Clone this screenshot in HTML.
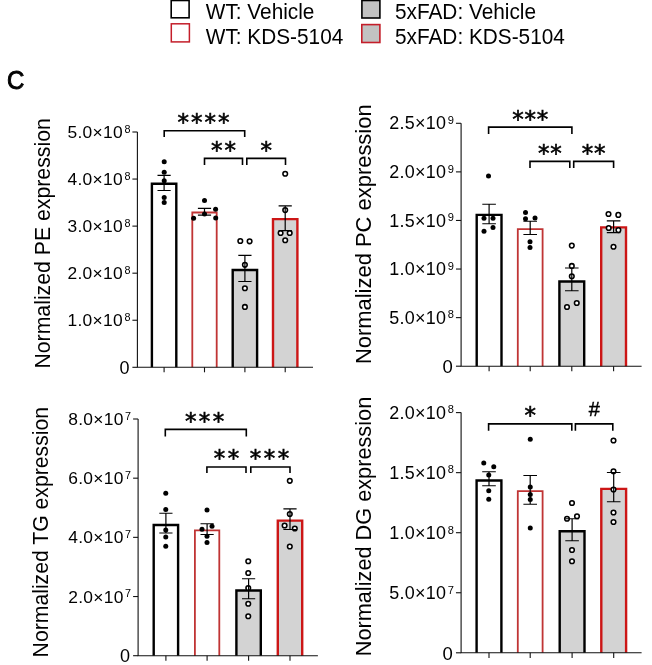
<!DOCTYPE html>
<html><head><meta charset="utf-8"><title>Lipid expression</title>
<style>
html,body{margin:0;padding:0;background:#fff;}
body{width:652px;height:665px;overflow:hidden;}
svg{display:block;filter:blur(0.4px);}
text{font-family:'Liberation Sans', Arial, Helvetica, sans-serif;fill:#000;}
text.ast{font-family:'DejaVu Sans', sans-serif;}
</style></head>
<body>
<svg width="652" height="665" viewBox="0 0 652 665">
<rect x="171.2" y="0.5" width="17.9" height="17.3" fill="#fff" stroke="#000" stroke-width="1.6"/>
<rect x="171.3" y="23.8" width="18.1" height="18.1" fill="#fff" stroke="#c41e2a" stroke-width="1.5"/>
<rect x="361.9" y="0.5" width="18.0" height="17.5" fill="#c2c2c2" stroke="#000" stroke-width="1.6"/>
<rect x="361.8" y="24.6" width="18.1" height="17.9" fill="#c2c2c2" stroke="#c41e2a" stroke-width="1.6"/>
<text transform="translate(205.8 18.9) scale(1 1.06)" font-size="20.8">WT: Vehicle</text>
<text transform="translate(205.8 43.8) scale(1 1.06)" font-size="20.8">WT: KDS-5104</text>
<text transform="translate(395.0 18.9) scale(1 1.06)" font-size="20.8">5xFAD: Vehicle</text>
<text transform="translate(395.0 43.8) scale(1 1.06)" font-size="20.8">5xFAD: KDS-5104</text>
<text transform="translate(7.0 88.5) scale(1 1.07)" font-size="24" stroke="#000" stroke-width="0.9">C</text>
<rect x="151.9" y="183.8" width="24.4" height="183.5" fill="#fff"/>
<path d="M151.9 367.3V183.8H176.3V367.3" fill="none" stroke="#000" stroke-width="2.4"/>
<rect x="192.3" y="212.5" width="24.4" height="154.8" fill="#fff"/>
<path d="M192.3 367.3V212.5H216.7V367.3" fill="none" stroke="#c03434" stroke-width="1.8"/>
<rect x="232.7" y="270" width="24.4" height="97.3" fill="#d3d3d3"/>
<path d="M232.7 367.3V270H257.1V367.3" fill="none" stroke="#000" stroke-width="2.4"/>
<rect x="273" y="219.1" width="24.4" height="148.2" fill="#d3d3d3"/>
<path d="M273 367.3V219.1H297.4V367.3" fill="none" stroke="#cc1616" stroke-width="2.4"/>
<path d="M137.4 132V367.3H313" fill="none" stroke="#111" stroke-width="1.1"/>
<path d="M132.4 367.3H137.4" stroke="#111" stroke-width="1.1"/>
<text x="129.4" y="373.8" font-size="18" text-anchor="end">0</text>
<path d="M132.4 320.24H137.4" stroke="#111" stroke-width="1.1"/>
<text x="130.4" y="321.04" font-size="10.8" text-anchor="end">8</text>
<text x="123" y="326.24" font-size="17.4" text-anchor="end" letter-spacing="0.3">1.0×10</text>
<path d="M132.4 273.18H137.4" stroke="#111" stroke-width="1.1"/>
<text x="130.4" y="273.98" font-size="10.8" text-anchor="end">8</text>
<text x="123" y="279.18" font-size="17.4" text-anchor="end" letter-spacing="0.3">2.0×10</text>
<path d="M132.4 226.12H137.4" stroke="#111" stroke-width="1.1"/>
<text x="130.4" y="226.92" font-size="10.8" text-anchor="end">8</text>
<text x="123" y="232.12" font-size="17.4" text-anchor="end" letter-spacing="0.3">3.0×10</text>
<path d="M132.4 179.06H137.4" stroke="#111" stroke-width="1.1"/>
<text x="130.4" y="179.86" font-size="10.8" text-anchor="end">8</text>
<text x="123" y="185.06" font-size="17.4" text-anchor="end" letter-spacing="0.3">4.0×10</text>
<path d="M132.4 132H137.4" stroke="#111" stroke-width="1.1"/>
<text x="130.4" y="132.8" font-size="10.8" text-anchor="end">8</text>
<text x="123" y="138" font-size="17.4" text-anchor="end" letter-spacing="0.3">5.0×10</text>
<path d="M164.1 367.3V372.3" stroke="#111" stroke-width="1.1"/>
<path d="M204.5 367.3V372.3" stroke="#111" stroke-width="1.1"/>
<path d="M244.9 367.3V372.3" stroke="#111" stroke-width="1.1"/>
<path d="M285.2 367.3V372.3" stroke="#111" stroke-width="1.1"/>
<circle cx="164.2" cy="161.8" r="2.5" fill="#000"/>
<circle cx="164.2" cy="172.3" r="2.5" fill="#000"/>
<circle cx="164.2" cy="180.8" r="2.5" fill="#000"/>
<circle cx="164.2" cy="197.5" r="2.5" fill="#000"/>
<circle cx="164.2" cy="202.5" r="2.5" fill="#000"/>
<circle cx="204.5" cy="200.4" r="2.5" fill="#000"/>
<circle cx="215.6" cy="209.3" r="2.5" fill="#000"/>
<circle cx="204.5" cy="213.9" r="2.5" fill="#000"/>
<circle cx="193.6" cy="218.3" r="2.5" fill="#000"/>
<circle cx="215.7" cy="217.9" r="2.5" fill="#000"/>
<circle cx="240.3" cy="241" r="2.3" fill="#fff" stroke="#000" stroke-width="1.55"/>
<circle cx="249.6" cy="241.3" r="2.3" fill="#fff" stroke="#000" stroke-width="1.55"/>
<circle cx="244.9" cy="264.8" r="2.3" fill="#fff" stroke="#000" stroke-width="1.55"/>
<circle cx="244.9" cy="288.2" r="2.3" fill="#fff" stroke="#000" stroke-width="1.55"/>
<circle cx="244.9" cy="306.9" r="2.3" fill="#fff" stroke="#000" stroke-width="1.55"/>
<circle cx="285.2" cy="173.7" r="2.3" fill="#fff" stroke="#000" stroke-width="1.55"/>
<circle cx="285.2" cy="210.1" r="2.3" fill="#fff" stroke="#000" stroke-width="1.55"/>
<circle cx="280.6" cy="233" r="2.3" fill="#fff" stroke="#000" stroke-width="1.55"/>
<circle cx="289.7" cy="233" r="2.3" fill="#fff" stroke="#000" stroke-width="1.55"/>
<circle cx="285.2" cy="240.2" r="2.3" fill="#fff" stroke="#000" stroke-width="1.55"/>
<path d="M164.1 175.3V190.5M157.5 175.3H170.7M157.5 190.5H170.7" fill="none" stroke="#000" stroke-width="1.2"/>
<path d="M204.5 208.4V215.2M197.9 208.4H211.1M197.9 215.2H211.1" fill="none" stroke="#000" stroke-width="1.2"/>
<path d="M244.9 255.3V281.5M238.3 255.3H251.5M238.3 281.5H251.5" fill="none" stroke="#000" stroke-width="1.2"/>
<path d="M285.2 205.9V230.6M278.6 205.9H291.8M278.6 230.6H291.8" fill="none" stroke="#000" stroke-width="1.2"/>
<path d="M164.2 137V130.7H244.7V137" fill="none" stroke="#000" stroke-width="1.6"/>
<text x="204.55" y="130.1" class="ast" font-size="23" stroke="#000" stroke-width="0.6" text-anchor="middle" letter-spacing="2.0">****</text>
<path d="M204.5 165V158.4H242.5V165" fill="none" stroke="#000" stroke-width="1.6"/>
<text x="224.5" y="157.8" class="ast" font-size="23" stroke="#000" stroke-width="0.6" text-anchor="middle" letter-spacing="2.0">**</text>
<path d="M246.8 165V158.4H285.5V165" fill="none" stroke="#000" stroke-width="1.6"/>
<text x="267.15" y="157.8" class="ast" font-size="23" stroke="#000" stroke-width="0.6" text-anchor="middle" letter-spacing="2.0">*</text>
<text transform="translate(49.6 368.6) rotate(-90)" font-size="21.26">Normalized PE expression</text>
<rect x="476.7" y="214.9" width="24.8" height="151.3" fill="#fff"/>
<path d="M476.7 366.2V214.9H501.5V366.2" fill="none" stroke="#000" stroke-width="2.4"/>
<rect x="517.8" y="229.2" width="24.8" height="137" fill="#fff"/>
<path d="M517.8 366.2V229.2H542.6V366.2" fill="none" stroke="#c03434" stroke-width="1.8"/>
<rect x="559.4" y="281.5" width="24.8" height="84.7" fill="#d3d3d3"/>
<path d="M559.4 366.2V281.5H584.2V366.2" fill="none" stroke="#000" stroke-width="2.4"/>
<rect x="601.2" y="227.4" width="24.8" height="138.8" fill="#d3d3d3"/>
<path d="M601.2 366.2V227.4H626V366.2" fill="none" stroke="#cc1616" stroke-width="2.4"/>
<path d="M461.1 123.3V366.2H641.6" fill="none" stroke="#111" stroke-width="1.1"/>
<path d="M455.95 366.2H461.1" stroke="#111" stroke-width="1.1"/>
<text x="452.86" y="372.89" font-size="18.54" text-anchor="end">0</text>
<path d="M455.95 317.62H461.1" stroke="#111" stroke-width="1.1"/>
<text x="453.89" y="318.42" font-size="11.12" text-anchor="end">8</text>
<text x="446.27" y="323.8" font-size="17.92" text-anchor="end" letter-spacing="0.31">5.0×10</text>
<path d="M455.95 269.04H461.1" stroke="#111" stroke-width="1.1"/>
<text x="453.89" y="269.84" font-size="11.12" text-anchor="end">9</text>
<text x="446.27" y="275.22" font-size="17.92" text-anchor="end" letter-spacing="0.31">1.0×10</text>
<path d="M455.95 220.46H461.1" stroke="#111" stroke-width="1.1"/>
<text x="453.89" y="221.26" font-size="11.12" text-anchor="end">9</text>
<text x="446.27" y="226.64" font-size="17.92" text-anchor="end" letter-spacing="0.31">1.5×10</text>
<path d="M455.95 171.88H461.1" stroke="#111" stroke-width="1.1"/>
<text x="453.89" y="172.68" font-size="11.12" text-anchor="end">9</text>
<text x="446.27" y="178.06" font-size="17.92" text-anchor="end" letter-spacing="0.31">2.0×10</text>
<path d="M455.95 123.3H461.1" stroke="#111" stroke-width="1.1"/>
<text x="453.89" y="124.1" font-size="11.12" text-anchor="end">9</text>
<text x="446.27" y="129.48" font-size="17.92" text-anchor="end" letter-spacing="0.31">2.5×10</text>
<path d="M489.1 366.2V371.35" stroke="#111" stroke-width="1.1"/>
<path d="M530.2 366.2V371.35" stroke="#111" stroke-width="1.1"/>
<path d="M571.8 366.2V371.35" stroke="#111" stroke-width="1.1"/>
<path d="M613.6 366.2V371.35" stroke="#111" stroke-width="1.1"/>
<circle cx="488.5" cy="176" r="2.5" fill="#000"/>
<circle cx="484" cy="218.25" r="2.5" fill="#000"/>
<circle cx="493" cy="218.25" r="2.5" fill="#000"/>
<circle cx="484" cy="231.25" r="2.5" fill="#000"/>
<circle cx="493" cy="227.5" r="2.5" fill="#000"/>
<circle cx="525.5" cy="212.5" r="2.5" fill="#000"/>
<circle cx="525.5" cy="218.75" r="2.5" fill="#000"/>
<circle cx="535" cy="218" r="2.5" fill="#000"/>
<circle cx="530" cy="241.75" r="2.5" fill="#000"/>
<circle cx="530" cy="247.5" r="2.5" fill="#000"/>
<circle cx="571.8" cy="245.6" r="2.3" fill="#fff" stroke="#000" stroke-width="1.55"/>
<circle cx="571.8" cy="265.9" r="2.3" fill="#fff" stroke="#000" stroke-width="1.55"/>
<circle cx="571.8" cy="276.2" r="2.3" fill="#fff" stroke="#000" stroke-width="1.55"/>
<circle cx="567" cy="307" r="2.3" fill="#fff" stroke="#000" stroke-width="1.55"/>
<circle cx="576.75" cy="303" r="2.3" fill="#fff" stroke="#000" stroke-width="1.55"/>
<circle cx="608.5" cy="214" r="2.3" fill="#fff" stroke="#000" stroke-width="1.55"/>
<circle cx="618.3" cy="214.9" r="2.3" fill="#fff" stroke="#000" stroke-width="1.55"/>
<circle cx="608.7" cy="228" r="2.3" fill="#fff" stroke="#000" stroke-width="1.55"/>
<circle cx="618.4" cy="230.1" r="2.3" fill="#fff" stroke="#000" stroke-width="1.55"/>
<circle cx="613.5" cy="246.7" r="2.3" fill="#fff" stroke="#000" stroke-width="1.55"/>
<path d="M489.1 204.25V223.75M482.3 204.25H495.9M482.3 223.75H495.9" fill="none" stroke="#000" stroke-width="1.2"/>
<path d="M530.2 221.25V234.5M523.4 221.25H537M523.4 234.5H537" fill="none" stroke="#000" stroke-width="1.2"/>
<path d="M571.8 268V290.75M565 268H578.6M565 290.75H578.6" fill="none" stroke="#000" stroke-width="1.2"/>
<path d="M613.6 220.8V232.6M606.8 220.8H620.4M606.8 232.6H620.4" fill="none" stroke="#000" stroke-width="1.2"/>
<path d="M488.6 133.9V127.1H571.9V133.9" fill="none" stroke="#000" stroke-width="1.6"/>
<text x="530.65" y="127.1" class="ast" font-size="23" stroke="#000" stroke-width="0.6" text-anchor="middle" letter-spacing="0.8">***</text>
<path d="M530 168V161.4H569.8V168" fill="none" stroke="#000" stroke-width="1.6"/>
<text x="550.3" y="161.4" class="ast" font-size="23" stroke="#000" stroke-width="0.6" text-anchor="middle" letter-spacing="0.8">**</text>
<path d="M573.7 168V161.4H613.6V168" fill="none" stroke="#000" stroke-width="1.6"/>
<text x="594.05" y="161.4" class="ast" font-size="23" stroke="#000" stroke-width="0.6" text-anchor="middle" letter-spacing="0.8">**</text>
<text transform="translate(371.1 364.1) rotate(-90)" font-size="21.94">Normalized PC expression</text>
<rect x="153.7" y="524.95" width="24.4" height="130.75" fill="#fff"/>
<path d="M153.7 655.7V524.95H178.1V655.7" fill="none" stroke="#000" stroke-width="2.4"/>
<rect x="194.9" y="530.45" width="24.4" height="125.25" fill="#fff"/>
<path d="M194.9 655.7V530.45H219.3V655.7" fill="none" stroke="#c03434" stroke-width="1.8"/>
<rect x="236.4" y="590.45" width="24.4" height="65.25" fill="#d3d3d3"/>
<path d="M236.4 655.7V590.45H260.8V655.7" fill="none" stroke="#000" stroke-width="2.4"/>
<rect x="277.8" y="520.6" width="24.4" height="135.1" fill="#d3d3d3"/>
<path d="M277.8 655.7V520.6H302.2V655.7" fill="none" stroke="#cc1616" stroke-width="2.4"/>
<path d="M138.1 419V655.7H317.9" fill="none" stroke="#111" stroke-width="1.1"/>
<path d="M133.1 655.7H138.1" stroke="#111" stroke-width="1.1"/>
<text x="130.1" y="662.2" font-size="18" text-anchor="end">0</text>
<path d="M133.1 596.53H138.1" stroke="#111" stroke-width="1.1"/>
<text x="131.1" y="597.33" font-size="10.8" text-anchor="end">7</text>
<text x="123.7" y="602.53" font-size="17.4" text-anchor="end" letter-spacing="0.3">2.0×10</text>
<path d="M133.1 537.35H138.1" stroke="#111" stroke-width="1.1"/>
<text x="131.1" y="538.15" font-size="10.8" text-anchor="end">7</text>
<text x="123.7" y="543.35" font-size="17.4" text-anchor="end" letter-spacing="0.3">4.0×10</text>
<path d="M133.1 478.18H138.1" stroke="#111" stroke-width="1.1"/>
<text x="131.1" y="478.98" font-size="10.8" text-anchor="end">7</text>
<text x="123.7" y="484.18" font-size="17.4" text-anchor="end" letter-spacing="0.3">6.0×10</text>
<path d="M133.1 419H138.1" stroke="#111" stroke-width="1.1"/>
<text x="131.1" y="419.8" font-size="10.8" text-anchor="end">7</text>
<text x="123.7" y="425" font-size="17.4" text-anchor="end" letter-spacing="0.3">8.0×10</text>
<path d="M165.9 655.7V660.7" stroke="#111" stroke-width="1.1"/>
<path d="M207.1 655.7V660.7" stroke="#111" stroke-width="1.1"/>
<path d="M248.6 655.7V660.7" stroke="#111" stroke-width="1.1"/>
<path d="M290 655.7V660.7" stroke="#111" stroke-width="1.1"/>
<circle cx="165.75" cy="493.25" r="2.5" fill="#000"/>
<circle cx="165.75" cy="509.5" r="2.5" fill="#000"/>
<circle cx="165.75" cy="530" r="2.5" fill="#000"/>
<circle cx="165.75" cy="537" r="2.5" fill="#000"/>
<circle cx="165.75" cy="546.25" r="2.5" fill="#000"/>
<circle cx="207" cy="510" r="2.5" fill="#000"/>
<circle cx="202" cy="529.25" r="2.5" fill="#000"/>
<circle cx="212" cy="526.25" r="2.5" fill="#000"/>
<circle cx="207" cy="536.25" r="2.5" fill="#000"/>
<circle cx="207" cy="542.5" r="2.5" fill="#000"/>
<circle cx="248.25" cy="561.25" r="2.3" fill="#fff" stroke="#000" stroke-width="1.55"/>
<circle cx="248.25" cy="573" r="2.3" fill="#fff" stroke="#000" stroke-width="1.55"/>
<circle cx="248.25" cy="588" r="2.3" fill="#fff" stroke="#000" stroke-width="1.55"/>
<circle cx="248.25" cy="603.75" r="2.3" fill="#fff" stroke="#000" stroke-width="1.55"/>
<circle cx="248.25" cy="616.25" r="2.3" fill="#fff" stroke="#000" stroke-width="1.55"/>
<circle cx="289.8" cy="480.8" r="2.3" fill="#fff" stroke="#000" stroke-width="1.55"/>
<circle cx="289.8" cy="514" r="2.3" fill="#fff" stroke="#000" stroke-width="1.55"/>
<circle cx="284.6" cy="525.5" r="2.3" fill="#fff" stroke="#000" stroke-width="1.55"/>
<circle cx="294.8" cy="528.5" r="2.3" fill="#fff" stroke="#000" stroke-width="1.55"/>
<circle cx="289.8" cy="546.5" r="2.3" fill="#fff" stroke="#000" stroke-width="1.55"/>
<path d="M165.9 513.25V533M159.3 513.25H172.5M159.3 533H172.5" fill="none" stroke="#000" stroke-width="1.2"/>
<path d="M207.1 523.75V534.5M200.5 523.75H213.7M200.5 534.5H213.7" fill="none" stroke="#000" stroke-width="1.2"/>
<path d="M248.6 578.75V598.75M242 578.75H255.2M242 598.75H255.2" fill="none" stroke="#000" stroke-width="1.2"/>
<path d="M290 508.8V529.5M283.4 508.8H296.6M283.4 529.5H296.6" fill="none" stroke="#000" stroke-width="1.2"/>
<path d="M165.3 436.5V429.4H246.3V436.5" fill="none" stroke="#000" stroke-width="1.6"/>
<text x="205.83" y="428.6" class="ast" font-size="23" stroke="#000" stroke-width="0.6" text-anchor="middle" letter-spacing="2.45">***</text>
<path d="M206.9 473V467H246V473" fill="none" stroke="#000" stroke-width="1.6"/>
<text x="227.67" y="466.2" class="ast" font-size="23" stroke="#000" stroke-width="0.6" text-anchor="middle" letter-spacing="2.45">**</text>
<path d="M250.8 473V467H290V473" fill="none" stroke="#000" stroke-width="1.6"/>
<text x="270.73" y="466.2" class="ast" font-size="23" stroke="#000" stroke-width="0.6" text-anchor="middle" letter-spacing="2.45">***</text>
<text transform="translate(48.3 657.4) rotate(-90)" font-size="21.2">Normalized TG expression</text>
<rect x="476.6" y="480.45" width="24.8" height="172.35" fill="#fff"/>
<path d="M476.6 652.8V480.45H501.4V652.8" fill="none" stroke="#000" stroke-width="2.4"/>
<rect x="517.8" y="491.1" width="24.8" height="161.7" fill="#fff"/>
<path d="M517.8 652.8V491.1H542.6V652.8" fill="none" stroke="#c03434" stroke-width="1.8"/>
<rect x="559.7" y="531.2" width="24.8" height="121.6" fill="#d3d3d3"/>
<path d="M559.7 652.8V531.2H584.5V652.8" fill="none" stroke="#000" stroke-width="2.4"/>
<rect x="601.3" y="488.9" width="24.8" height="163.9" fill="#d3d3d3"/>
<path d="M601.3 652.8V488.9H626.1V652.8" fill="none" stroke="#cc1616" stroke-width="2.4"/>
<path d="M461.1 412.6V652.8H641.6" fill="none" stroke="#111" stroke-width="1.1"/>
<path d="M455.95 652.8H461.1" stroke="#111" stroke-width="1.1"/>
<text x="452.86" y="659.5" font-size="18.54" text-anchor="end">0</text>
<path d="M455.95 592.75H461.1" stroke="#111" stroke-width="1.1"/>
<text x="453.89" y="593.55" font-size="11.12" text-anchor="end">7</text>
<text x="446.27" y="598.93" font-size="17.92" text-anchor="end" letter-spacing="0.31">5.0×10</text>
<path d="M455.95 532.7H461.1" stroke="#111" stroke-width="1.1"/>
<text x="453.89" y="533.5" font-size="11.12" text-anchor="end">8</text>
<text x="446.27" y="538.88" font-size="17.92" text-anchor="end" letter-spacing="0.31">1.0×10</text>
<path d="M455.95 472.65H461.1" stroke="#111" stroke-width="1.1"/>
<text x="453.89" y="473.45" font-size="11.12" text-anchor="end">8</text>
<text x="446.27" y="478.83" font-size="17.92" text-anchor="end" letter-spacing="0.31">1.5×10</text>
<path d="M455.95 412.6H461.1" stroke="#111" stroke-width="1.1"/>
<text x="453.89" y="413.4" font-size="11.12" text-anchor="end">8</text>
<text x="446.27" y="418.78" font-size="17.92" text-anchor="end" letter-spacing="0.31">2.0×10</text>
<path d="M489 652.8V657.95" stroke="#111" stroke-width="1.1"/>
<path d="M530.2 652.8V657.95" stroke="#111" stroke-width="1.1"/>
<path d="M572.1 652.8V657.95" stroke="#111" stroke-width="1.1"/>
<path d="M613.7 652.8V657.95" stroke="#111" stroke-width="1.1"/>
<circle cx="483.75" cy="463" r="2.5" fill="#000"/>
<circle cx="493.75" cy="466.75" r="2.5" fill="#000"/>
<circle cx="488.75" cy="475" r="2.5" fill="#000"/>
<circle cx="488.75" cy="490.75" r="2.5" fill="#000"/>
<circle cx="488.75" cy="499.25" r="2.5" fill="#000"/>
<circle cx="530.25" cy="439.25" r="2.5" fill="#000"/>
<circle cx="530.25" cy="487" r="2.5" fill="#000"/>
<circle cx="530.25" cy="494.4" r="2.5" fill="#000"/>
<circle cx="530.25" cy="499.4" r="2.5" fill="#000"/>
<circle cx="530.25" cy="528" r="2.5" fill="#000"/>
<circle cx="572" cy="503" r="2.3" fill="#fff" stroke="#000" stroke-width="1.55"/>
<circle cx="567" cy="518.75" r="2.3" fill="#fff" stroke="#000" stroke-width="1.55"/>
<circle cx="577" cy="516.25" r="2.3" fill="#fff" stroke="#000" stroke-width="1.55"/>
<circle cx="572" cy="550" r="2.3" fill="#fff" stroke="#000" stroke-width="1.55"/>
<circle cx="572" cy="561.25" r="2.3" fill="#fff" stroke="#000" stroke-width="1.55"/>
<circle cx="613.5" cy="440.5" r="2.3" fill="#fff" stroke="#000" stroke-width="1.55"/>
<circle cx="613.5" cy="471.25" r="2.3" fill="#fff" stroke="#000" stroke-width="1.55"/>
<circle cx="613.5" cy="489.5" r="2.3" fill="#fff" stroke="#000" stroke-width="1.55"/>
<circle cx="613.5" cy="512.5" r="2.3" fill="#fff" stroke="#000" stroke-width="1.55"/>
<circle cx="613.5" cy="522" r="2.3" fill="#fff" stroke="#000" stroke-width="1.55"/>
<path d="M489 471.75V485.75M482.2 471.75H495.8M482.2 485.75H495.8" fill="none" stroke="#000" stroke-width="1.2"/>
<path d="M530.2 475.5V504.25M523.4 475.5H537M523.4 504.25H537" fill="none" stroke="#000" stroke-width="1.2"/>
<path d="M572.1 518.75V540.75M565.3 518.75H578.9M565.3 540.75H578.9" fill="none" stroke="#000" stroke-width="1.2"/>
<path d="M613.7 472.5V501.75M606.9 472.5H620.5M606.9 501.75H620.5" fill="none" stroke="#000" stroke-width="1.2"/>
<path d="M488.6 430.7V423.9H571.8V430.7" fill="none" stroke="#000" stroke-width="1.6"/>
<text x="531.1" y="423.1" class="ast" font-size="23" stroke="#000" stroke-width="0.6" text-anchor="middle" letter-spacing="1.8">*</text>
<path d="M575.4 430.7V423.9H612.8V430.7" fill="none" stroke="#000" stroke-width="1.6"/>
<text x="594.3" y="415.9" font-size="20" stroke="#000" stroke-width="0.45" text-anchor="middle">#</text>
<text transform="translate(371.2 656.3) rotate(-90)" font-size="21.73">Normalized DG expression</text>
</svg>
</body></html>
